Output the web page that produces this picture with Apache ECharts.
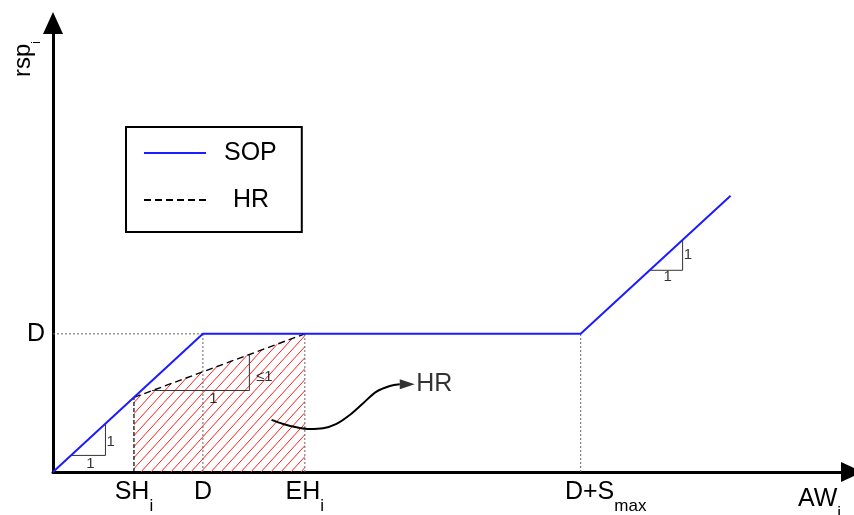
<!DOCTYPE html>
<html>
<head>
<meta charset="utf-8">
<script src="https://cdn.jsdelivr.net/npm/echarts@6/dist/echarts.min.js"></script>
<style>
  html, body { margin: 0; padding: 0; background: #fff; }
  #chart { width: 854px; height: 515px; }
</style>
</head>
<body>
<div id="chart"></div>
<script>
const FONT = '"Liberation Sans", Arial, Helvetica, sans-serif';

// Marked positions on the axes and their labels
const xTickValues = [54, 100, 168, 352];
const xTickLabels = ['{m|SH}{s|i}', '{m|D}', '{m|EH}{s|i}', '{sp| }{m|D+S}{s|max}'];
const yTickValues = [100];
const yTickLabels = ['D'];

// SOP response: ramp, plateau at D, then ramp again
const sopX = [0, 100, 352, 452];
const sopY = [0, 100, 100, 200];

// HR response between SH_i and EH_i
const hrX = [54, 168];
const hrY = [54, 100];

// Helper lines (dotted grey)
const guideLines = [
  [[0, 100], [100, 100]],
  [[100, 0], [100, 100]],
  [[168, 0], [168, 100]],
  [[352, 0], [352, 100]]
];
// Dashed edge of the HR region at SH_i
const shEdge = [[54, 0], [54, 54]];

// Slope triangles
const slopeTriangles = [
  [[12, 12], [35, 12], [35, 35]],
  [[66, 59], [131, 59], [131, 85]],
  [[398, 146], [420, 146], [420, 168]]
];
// Slope labels: [x, y, text]
const slopeNotes = [
  [25, 6, '1'], [38.5, 22, '1'],
  [107, 53, '1'], [141, 69, '≤1'],
  [410, 141, '1'], [423.5, 157, '1']
];

// Pointer from the hatched region to its "HR" caption
const pointerX = [145.8, 153.5, 162.5, 171.3, 180.2, 189.1, 198, 206.9, 215.8, 224.7, 231.3];
const pointerY = [37.7, 34.8, 32.4, 31.2, 31.7, 34.8, 41.3, 49.8, 58.2, 62.3, 63.6];
const pointerHead = [236.3, 63.6];
const pointerTip = [241.3, 63.6];

function zip(xs, ys) { return xs.map((x, i) => [x, ys[i]]); }

// red diagonal hatching used to fill the HR region
function hatchPattern() {
  const w = 10, h = 11;
  const c = document.createElement('canvas');
  c.width = w; c.height = h;
  const g = c.getContext('2d');
  g.strokeStyle = '#ff2020';
  g.lineWidth = 1;
  for (let k = -1; k <= 1; k++) {
    g.beginPath();
    g.moveTo(k * w, h);
    g.lineTo(k * w + w, 0);
    g.stroke();
  }
  return c;
}

function segment(points, color, width, type, z) {
  return {
    type: 'line', data: points, symbol: 'none', silent: true,
    lineStyle: { color: color, width: width, type: type },
    emphasis: { disabled: true }, z: z
  };
}

const chart = echarts.init(document.getElementById('chart'), null, { renderer: 'canvas' });

const labelRich = {
  m: { fontSize: 25, lineHeight: 30, verticalAlign: 'top', fontFamily: FONT, color: '#000' },
  s: { fontSize: 17, lineHeight: 17, padding: [18, 0, 0, 0], verticalAlign: 'top', fontFamily: FONT, color: '#000' },
  sp: { width: 50, lineHeight: 30, verticalAlign: 'top' }
};

const series = [];

// hatched HR region with its dashed top edge
series.push({
  name: 'HR', type: 'line', data: zip(hrX, hrY), symbol: 'none', silent: true,
  lineStyle: { color: '#000', width: 1.4, type: [7, 4] },
  itemStyle: { color: '#000' },
  areaStyle: { color: { image: hatchPattern(), repeat: 'repeat' }, opacity: 1, origin: 'start' },
  emphasis: { disabled: true }, z: 3
});
series.push(segment(shEdge, '#000', 1.2, [4, 2], 3));
guideLines.forEach(p => series.push(segment(p, '#666', 1, [2, 2], 2)));
slopeTriangles.forEach(p => series.push(segment(p, '#333', 1, 'solid', 4)));

series.push({
  name: 'SOP', type: 'line', data: zip(sopX, sopY), symbol: 'none', silent: true,
  lineStyle: { color: '#1c1cff', width: 2 },
  itemStyle: { color: '#1c1cff' },
  emphasis: { disabled: true }, z: 5
});

// curved pointer and arrow head
series.push({
  type: 'line', data: zip(pointerX, pointerY), symbol: 'none', smooth: 0.35, silent: true,
  lineStyle: { color: '#000', width: 2 }, emphasis: { disabled: true }, z: 6
});
series.push({
  type: 'scatter', data: [pointerHead], symbol: 'triangle', symbolSize: [10, 15], symbolRotate: -90,
  itemStyle: { color: '#000' }, silent: true, emphasis: { disabled: true }, z: 6
});

// text notes
const notes = slopeNotes.map(n => ({
  value: [n[0], n[1]], name: n[2],
  label: { position: 'inside', fontSize: 15, color: '#000' }
}));
notes.push({
  value: pointerTip, name: 'HR',
  label: { position: 'right', distance: 1, fontSize: 25, color: '#000' }
});
series.push({
  type: 'scatter', data: notes, symbolSize: 1, silent: true,
  itemStyle: { color: 'rgba(0,0,0,0)' },
  label: { show: true, formatter: '{b}', color: '#000', fontFamily: FONT },
  emphasis: { disabled: true }, z: 7
});

chart.setOption({
  animation: false,
  backgroundColor: '#fff',
  textStyle: { fontFamily: FONT },
  grid: { left: 53, right: 2, top: 23, bottom: 43, containLabel: false, outerBoundsMode: 'none' },
  legend: {
    left: 126, top: 127, orient: 'vertical', selectedMode: false,
    padding: [12, 25, 18, 17],
    itemWidth: 62, itemHeight: 14, itemGap: 19,
    borderColor: '#000', borderWidth: 2,
    itemStyle: { opacity: 0 },
    textStyle: { fontSize: 25, lineHeight: 28, color: '#000', fontFamily: FONT },
    data: [
      { name: 'SOP', textStyle: { padding: [0, 0, 0, 13] } },
      { name: 'HR', textStyle: { padding: [0, 0, 0, 22] } }
    ]
  },
  xAxis: {
    type: 'value', min: 0, max: 533,
    name: '{m|AW}{s|i}', nameLocation: 'end', nameGap: -11,
    nameTextStyle: { align: 'right', verticalAlign: 'top', padding: [15, 0, 0, 0], rich: labelRich },
    axisLine: { show: true, onZero: false, symbol: ['none', 'triangle'], symbolSize: [20, 22],
      lineStyle: { color: '#000', width: 3 } },
    axisTick: { show: false },
    splitLine: { show: false },
    axisLabel: {
      customValues: xTickValues, margin: 8, color: '#000',
      formatter: v => { const i = xTickValues.indexOf(v); return i < 0 ? '' : xTickLabels[i]; },
      rich: labelRich
    }
  },
  yAxis: {
    type: 'value', min: 0, max: 325,
    name: '{m|rsp}{s|i}', nameLocation: 'end', nameGap: -36, nameRotate: 90,
    nameTextStyle: {
      align: 'center', verticalAlign: 'bottom', padding: [0, 0, 14, 0],
      rich: {
        m: { fontSize: 24, lineHeight: 28, verticalAlign: 'top', fontFamily: FONT, color: '#000' },
        s: { fontSize: 12, lineHeight: 12, padding: [20, 0, 0, 0], verticalAlign: 'top', fontFamily: FONT, color: '#000' }
      }
    },
    axisLine: { show: true, onZero: false, symbol: ['none', 'triangle'], symbolSize: [20, 22],
      lineStyle: { color: '#000', width: 3 } },
    axisTick: { show: false },
    splitLine: { show: false },
    axisLabel: {
      customValues: yTickValues, margin: 8, color: '#000', fontSize: 25, fontFamily: FONT,
      formatter: v => { const i = yTickValues.indexOf(v); return i < 0 ? '' : yTickLabels[i]; }
    }
  },
  series: series
});
</script>
</body>
</html>
